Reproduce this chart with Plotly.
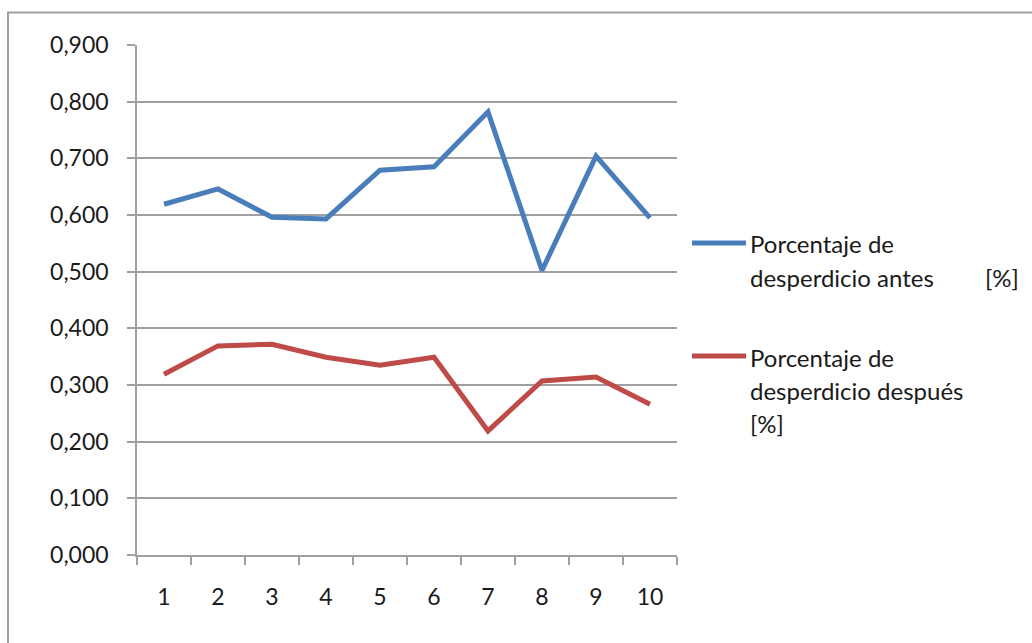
import plotly.graph_objects as go

# Data
categorias = ["1", "2", "3", "4", "5", "6", "7", "8", "9", "10"]
antes = [0.619, 0.646, 0.596, 0.593, 0.679, 0.685, 0.782, 0.502, 0.704, 0.595]
despues = [0.319, 0.369, 0.372, 0.349, 0.335, 0.349, 0.219, 0.307, 0.314, 0.266]

nombre_antes = ["Porcentaje de", "desperdicio antes"]
nombre_despues = ["Porcentaje de", "desperdicio después", "[%]"]

AZUL = "#4A7EBB"
ROJO = "#BE4B48"
GRIS = "#A0A0A0"
FUENTE = "Lato"
TXT = "#1A1A1A"

W, H = 1032, 643
L, R, T, B = 137, 355, 45, 88
PW, PH = W - L - R, H - T - B


def px(x):
    return (x - L) / PW


def py(y):
    return (H - B - y) / PH


fig = go.Figure()
fig.add_trace(go.Scatter(x=categorias, y=antes, mode="lines",
                         line=dict(color=AZUL, width=5), showlegend=False))
fig.add_trace(go.Scatter(x=categorias, y=despues, mode="lines",
                         line=dict(color=ROJO, width=5), showlegend=False))

# Chart frame
fig.add_shape(type="rect", xref="paper", yref="paper",
              x0=px(8), x1=px(1100), y0=py(700), y1=py(12.5),
              line=dict(color=GRIS, width=2), layer="below")

# Legend drawn by hand (long line keys, wrapped labels)
def clave(color, yc):
    fig.add_shape(type="line", xref="paper", yref="paper",
                  x0=px(692), x1=px(746), y0=py(yc), y1=py(yc),
                  line=dict(color=color, width=5))


def texto(t, x, yc):
    fig.add_annotation(text=t, xref="paper", yref="paper", x=px(x), y=py(yc),
                       xanchor="left", yanchor="middle", showarrow=False,
                       font=dict(family=FUENTE, size=24, color=TXT))


clave(AZUL, 243)
for i, t in enumerate(nombre_antes):
    texto(t, 748, 244 + 33 * i)
texto("[%]", 983, 277)

clave(ROJO, 356)
for i, t in enumerate(nombre_despues):
    texto(t, 748, 357 + 33 * i)

fig.update_layout(
    width=W, height=H,
    margin=dict(l=L, r=R, t=T, b=B),
    paper_bgcolor="white", plot_bgcolor="white",
    separators=",.",
    font=dict(family=FUENTE, size=23, color=TXT),
    xaxis=dict(type="category", range=[-0.5, 9.5], tickson="boundaries",
               ticks="outside", ticklen=8, tickcolor=GRIS, tickwidth=1.5,
               showline=True, linecolor=GRIS, linewidth=1.5,
               showgrid=False, ticklabelstandoff=21, fixedrange=True),
    yaxis=dict(range=[0, 0.9], dtick=0.1, tickformat=".3f",
               ticks="outside", ticklen=8, tickcolor=GRIS, tickwidth=1.5,
               showline=True, linecolor=GRIS, linewidth=1.5,
               showgrid=True, gridcolor=GRIS, gridwidth=1.5,
               zeroline=False, ticklabelstandoff=14, fixedrange=True),
)

fig.write_html("out.html")
